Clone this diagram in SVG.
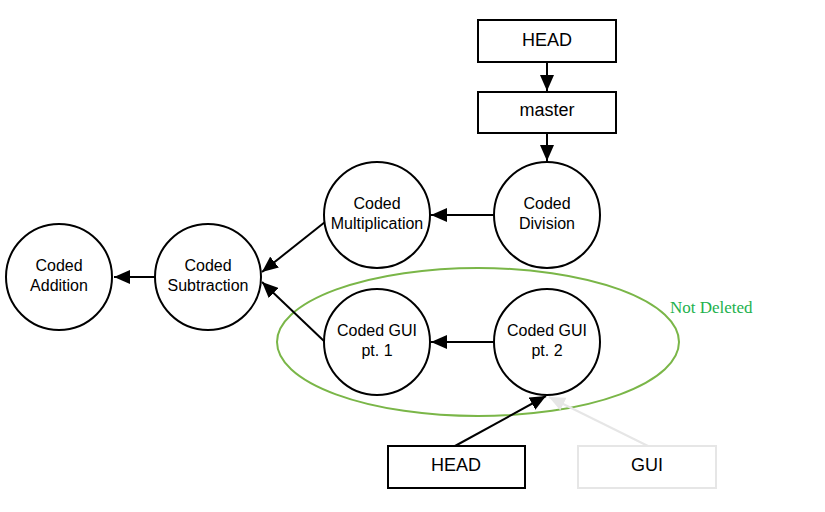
<svg xmlns="http://www.w3.org/2000/svg" width="825" height="512" viewBox="0 0 825 512">
<defs>
<marker id="ah" viewBox="0 0 16 14" refX="16" refY="7" markerWidth="16" markerHeight="14" markerUnits="userSpaceOnUse" orient="auto">
<path d="M0,0 L16,7 L0,14 Z" fill="#000"/>
</marker>
<marker id="ahg" viewBox="0 0 16 14" refX="16" refY="7" markerWidth="16" markerHeight="14" markerUnits="userSpaceOnUse" orient="auto">
<path d="M0,0 L16,7 L0,14 Z" fill="#e6e6e6"/>
</marker>
</defs>
<style>
.c{fill:#fff;stroke:#000;stroke-width:2}
.b{fill:#fff;stroke:#000;stroke-width:2}
.bg{fill:#fff;stroke:#e6e6e6;stroke-width:2}
.t{font-family:"Liberation Sans",Arial,sans-serif;font-size:16px;fill:#000;text-anchor:middle}
.tb{font-family:"Liberation Sans",Arial,sans-serif;font-size:18px;fill:#000;text-anchor:middle}
.e{stroke:#000;stroke-width:2;fill:none;marker-end:url(#ah)}
.eg{stroke:#e6e6e6;stroke-width:2;fill:none;marker-end:url(#ahg)}
</style>
<rect width="825" height="512" fill="#fff"/>
<ellipse id="group" cx="478" cy="342" rx="201" ry="74" fill="none" stroke="#7ab648" stroke-width="2"/>
<g id="connectors">
<line class="e" x1="547" y1="62" x2="547" y2="91"/>
<line class="e" x1="547" y1="133" x2="547" y2="161"/>
<line class="e" x1="494" y1="215" x2="431" y2="215"/>
<line class="e" x1="325" y1="222" x2="262" y2="272"/>
<line class="e" x1="325" y1="342" x2="262" y2="282"/>
<line class="e" x1="155" y1="277" x2="114" y2="277"/>
<line class="e" x1="494" y1="342" x2="431" y2="342"/>
<line class="e" x1="455" y1="446" x2="546" y2="396"/>
<line class="eg" x1="648" y1="446" x2="549" y2="397"/>
</g>
<g id="head-top"><rect class="b" x="478" y="20" width="138" height="42"/><text class="tb" x="547" y="46">HEAD</text></g>
<g id="master"><rect class="b" x="478" y="92" width="138" height="41"/><text class="tb" x="547" y="116">master</text></g>
<g id="addition"><circle class="c" cx="59" cy="277" r="53"/><text class="t" x="59" y="271">Coded</text><text class="t" x="59" y="291">Addition</text></g>
<g id="subtraction"><circle class="c" cx="208" cy="277" r="53"/><text class="t" x="208" y="271">Coded</text><text class="t" x="208" y="291">Subtraction</text></g>
<g id="multiplication"><circle class="c" cx="377" cy="215" r="53"/><text class="t" x="377" y="209">Coded</text><text class="t" x="377" y="229">Multiplication</text></g>
<g id="division"><circle class="c" cx="547" cy="215" r="53"/><text class="t" x="547" y="209">Coded</text><text class="t" x="547" y="229">Division</text></g>
<g id="gui1"><circle class="c" cx="377" cy="342" r="53"/><text class="t" x="377" y="336">Coded GUI</text><text class="t" x="377" y="356">pt. 1</text></g>
<g id="gui2"><circle class="c" cx="547" cy="342" r="53"/><text class="t" x="547" y="336">Coded GUI</text><text class="t" x="547" y="356">pt. 2</text></g>
<g id="head-bottom"><rect class="b" x="388" y="446" width="137" height="42"/><text class="tb" x="456" y="471">HEAD</text></g>
<g id="gui-branch"><rect class="bg" x="578" y="446" width="138" height="42"/><text class="tb" x="647" y="471">GUI</text></g>
<text x="670" y="313" font-family="'Liberation Serif','Times New Roman',serif" font-size="17" fill="#22b14c">Not Deleted</text>
</svg>
